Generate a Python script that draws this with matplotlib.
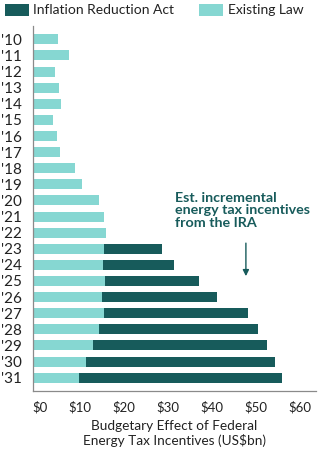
import matplotlib
matplotlib.use("Agg")
import matplotlib.pyplot as plt
from matplotlib.patches import Rectangle
from matplotlib.transforms import ScaledTranslation

years = ["'10", "'11", "'12", "'13", "'14", "'15", "'16", "'17", "'18", "'19", "'20",
         "'21", "'22", "'23", "'24", "'25", "'26", "'27", "'28", "'29", "'30", "'31"]
existing_law = [5.7, 8.3, 5.2, 6.1, 6.5, 4.6, 5.6, 6.2, 9.7, 11.2, 15.0,
                16.2, 16.7, 16.2, 16.1, 16.4, 15.7, 16.2, 15.1, 13.7, 12.1, 10.6]
ira = [0, 0, 0, 0, 0, 0, 0, 0, 0, 0, 0,
       0, 0, 13.3, 16.0, 21.4, 26.3, 32.8, 36.2, 39.6, 42.9, 46.0]
xticks = [0, 10, 20, 30, 40, 50, 60]
xtick_labels = ["$0", "$10", "$20", "$30", "$40", "$50", "$60"]

LIGHT = "#86d7d2"
DARK = "#175b5b"
TXT = "#222222"
FONT = "Lato"
plt.rcParams['font.family'] = [FONT, 'DejaVu Sans']

W, H = 321, 451
fig = plt.figure(figsize=(W / 100, H / 100), dpi=100)
ax_l, ax_r, ax_t, ax_b = 32.5, 316, 26, 391
ax = fig.add_axes([ax_l / W, 1 - ax_b / H, (ax_r - ax_l) / W, (ax_b - ax_t) / H])

n = len(years)
pos = list(range(n))
ax.barh(pos, existing_law, height=0.62, color=LIGHT, edgecolor="none")
ax.barh(pos, ira, left=existing_law, height=0.62, color=DARK, edgecolor="none")

ax.set_xlim(0, (ax_r - ax_l) / 4.4)
ax.set_ylim(n - 1 + 0.83, -0.83)

for s in ["top", "right"]:
    ax.spines[s].set_visible(False)
for s in ["left", "bottom"]:
    ax.spines[s].set_color("#8a8a8a")
    ax.spines[s].set_linewidth(0.9)

ax.set_yticks(pos)
ax.set_yticklabels(years, fontsize=11, color=TXT)
ax.tick_params(axis="y", length=0, pad=8)
ax.set_xticks(xticks)
ax.set_xticklabels(xtick_labels, fontsize=9.5, color=TXT)
ax.tick_params(axis="x", length=0, pad=7)
off = ScaledTranslation(3.5 / 100, 0, fig.dpi_scale_trans)
for i, lab in enumerate(ax.get_xticklabels()):
    if i == 0:
        lab.set_ha("left")
    else:
        lab.set_transform(lab.get_transform() + off)

ax.set_xlabel("Budgetary Effect of Federal\nEnergy Tax Incentives (US$bn)",
              fontsize=9.8, color=TXT, linespacing=1.15, labelpad=5)

ax.text(32.4, 9.45, "Est. incremental\nenergy tax incentives\nfrom the IRA",
        fontsize=10.3, fontweight="bold", color=DARK, ha="left", va="top", linespacing=1.08)
ax.annotate("", xy=(48.5, 14.7), xytext=(48.5, 12.65),
            arrowprops=dict(arrowstyle="-|>", color=DARK, lw=1.0, mutation_scale=9,
                            shrinkA=0, shrinkB=0))

# legend
def px(x, y):
    return x / W, 1 - y / H

fig.patches.append(Rectangle(px(4.7, 16), 24.3 / W, 12 / H, transform=fig.transFigure,
                             facecolor=DARK, edgecolor="none"))
fig.text(*px(33, 10), "Inflation Reduction Act", fontsize=10, color=TXT, va="center", ha="left")
fig.patches.append(Rectangle(px(199, 16), 24 / W, 12 / H, transform=fig.transFigure,
                             facecolor=LIGHT, edgecolor="none"))
fig.text(*px(228, 10), "Existing Law", fontsize=10, color=TXT, va="center", ha="left")

fig.savefig("out.png", dpi=100)
